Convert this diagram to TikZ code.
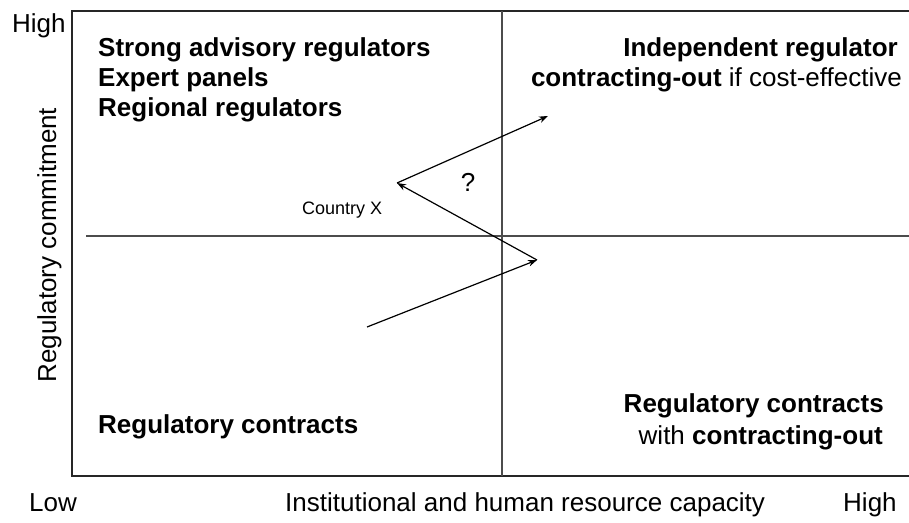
\documentclass[tikz,border=0pt]{standalone}
\usepackage{fontspec}
\setmainfont{Liberation Sans}
\usetikzlibrary{arrows.meta}
\tikzset{
  quadtext/.style={font=\fontsize{26}{30}\selectfont\bfseries, inner sep=0pt, anchor=base west},
  axistext/.style={font=\fontsize{26}{30}\selectfont, inner sep=0pt, anchor=base west},
  path/.style={line width=1.2pt, -{Stealth[length=9pt,width=6.5pt]}},
}
\begin{document}
\begin{tikzpicture}[x=1pt,y=-1pt]
    \useasboundingbox (0,0) rectangle (909,522);
    % frame and the two dividing lines
    \draw[line width=1.6pt, black!85] (72,11) rectangle (915,476);
    \draw[line width=1.2pt, black!70] (86,236) -- (915,236);
    \draw[line width=1.2pt, black!70] (502,11) -- (502,476);
    % axis labels
    \node[axistext] (hightop) at (12,32) {High};
    \node[axistext] (low) at (29,511) {Low};
    \node[axistext] (xaxis) at (285,511) {Institutional and human resource capacity};
    \node[axistext] (highright) at (843,511) {High};
    \node[axistext, rotate=90, anchor=base] (yaxis) at (56,245) {Regulatory commitment};
    % quadrant texts
    \node[quadtext] (strong) at (98,56) {Strong advisory regulators};
    \node[quadtext] (expert) at (98,86) {Expert panels};
    \node[quadtext] (regional) at (98,116) {Regional regulators};
    \node[quadtext, anchor=base east] (indep) at (898,56) {Independent regulator};
    \node[axistext, anchor=base east] (contrtop) at (902,86) {\textbf{contracting-out} if cost-effective};
    \node[quadtext] (contrleft) at (98,433) {Regulatory contracts};
    \node[quadtext, anchor=base east] (contrright) at (884,412) {Regulatory contracts};
    \node[axistext, anchor=base east] (withcontr) at (883,444) {with \textbf{contracting-out}};
    % path of country X
    \coordinate (start) at (367,327);
    \coordinate (turnright) at (537,260);
    \coordinate (countryx) at (397,183);
    \coordinate (goal) at (548,116);
    \draw[path] (start) -- (turnright);
    \draw[path] (turnright) -- (countryx);
    \draw[path] (countryx) -- (goal);
    \node[font=\fontsize{18}{20}\selectfont, inner sep=0pt, anchor=base west] (cxlabel) at (302,214) {Country X};
    \node[font=\fontsize{26}{30}\selectfont, inner sep=0pt, anchor=base] (question) at (468,191) {?};
\end{tikzpicture}
\end{document}
